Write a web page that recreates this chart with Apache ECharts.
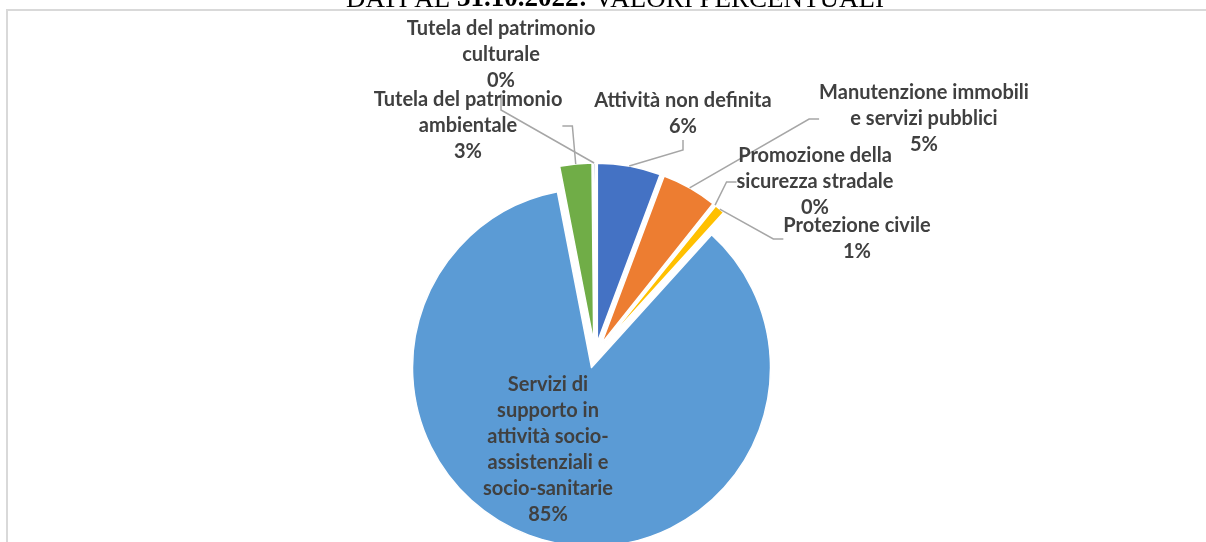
<!DOCTYPE html>
<html><head><meta charset="utf-8">
<script src="https://cdn.jsdelivr.net/npm/echarts@6/dist/echarts.min.js"></script>
<style>html,body{margin:0;padding:0;background:#fff}#c{width:1206px;height:542px}</style>
</head><body><div id="c"></div>
<script>
const categories = [
  'Attività non definita',
  'Manutenzione immobili e servizi pubblici',
  'Promozione della sicurezza stradale',
  'Protezione civile',
  'Servizi di supporto in attività socio-assistenziali e socio-sanitarie',
  'Tutela del patrimonio ambientale',
  'Tutela del patrimonio culturale'
];
const labelNames = [
  'Attività non definita',
  'Manutenzione immobili\ne servizi pubblici',
  'Promozione della\nsicurezza stradale',
  'Protezione civile',
  'Servizi di\nsupporto in\nattività socio-\nassistenziali e\nsocio-sanitarie',
  'Tutela del patrimonio\nambientale',
  'Tutela del patrimonio\nculturale'
];
const values = [5.7, 5.0, 0.1, 0.9, 85.2, 2.9, 0.15];
const colors = ['#4472C4', '#ED7D31', '#A5A5A5', '#FFC000', '#5B9BD5', '#70AD47', '#264478'];
const labelPos = [[683, 114], [924, 119], [815, 182], [857, 239], [548, 450], [468, 126], [501, 55]];
const leaderLen2 = [10, 10, 10, 10, 10, 10, 16];
const titleText = ['DATI AL ', '31.10.2022:', ' VALORI PERCENTUALI'];
const INSIDE = 4;

const chart = echarts.init(document.getElementById('c'), null, {renderer: 'canvas'});

// exploded slices
const sliceData = categories.map((name, i) => ({
  name: name, value: values[i], selected: true,
  itemStyle: {color: colors[i]}
}));
// transparent twin carrying the labels and leader lines
const labelData = categories.map((name, i) => ({
  name: name, value: values[i],
  labelLine: {show: i !== INSIDE, length2: leaderLen2[i]}
}));

chart.setOption({
  animation: false,
  backgroundColor: '#ffffff',
  graphic: [
    {type: 'rect', z: -10, silent: true, shape: {x: 7, y: 10, width: 1400, height: 700},
     style: {fill: '#ffffff', stroke: '#D9D9D9', lineWidth: 2}},
    {type: 'text', x: 615, y: 13, z: 10, silent: true,
     style: {
       text: '{n|' + titleText[0] + '}{b|' + titleText[1] + '}{n|' + titleText[2] + '}',
       align: 'center', verticalAlign: 'bottom',
       rich: {
         n: {fontFamily: 'Liberation Serif', fontSize: 27, color: '#000'},
         b: {fontFamily: 'Liberation Serif', fontSize: 27, fontWeight: 'bold', color: '#000'}
       }
     }}
  ],
  series: [{
    type: 'pie',
    z: 2,
    silent: true,
    center: [595, 355],
    radius: 179,
    startAngle: 90,
    clockwise: true,
    selectedMode: 'multiple',
    selectedOffset: 13,
    itemStyle: {borderColor: '#ffffff', borderWidth: 1.5},
    emphasis: {disabled: true},
    label: {show: false},
    labelLine: {show: false},
    data: sliceData
  }, {
    type: 'pie',
    z: 3,
    silent: true,
    center: [595, 355],
    radius: 192,
    startAngle: 90,
    clockwise: true,
    selectedMode: false,
    avoidLabelOverlap: false,
    itemStyle: {color: 'rgba(0,0,0,0)', borderWidth: 0},
    emphasis: {disabled: true},
    data: labelData,
    label: {
      show: true,
      position: 'outside',
      formatter: p => labelNames[p.dataIndex] + '\n' + Math.round(p.percent) + '%',
      fontFamily: 'Lato',
      fontWeight: 'bold',
      fontSize: 20,
      lineHeight: 26,
      color: '#404040',
      align: 'center'
    },
    labelLine: {
      show: true,
      length: 10,
      length2: 10,
      lineStyle: {color: '#A6A6A6', width: 1.5}
    },
    labelLayout: p => ({
      x: labelPos[p.dataIndex][0],
      y: labelPos[p.dataIndex][1],
      align: 'center',
      verticalAlign: 'middle'
    })
  }]
});
</script></body></html>
